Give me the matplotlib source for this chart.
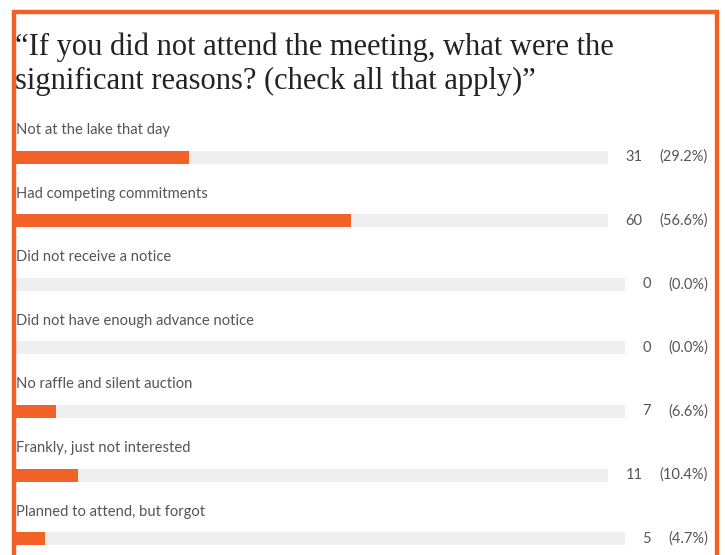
import matplotlib.pyplot as plt
from matplotlib.patches import Rectangle

# survey answers
reasons = ["Not at the lake that day",
           "Had competing commitments",
           "Did not receive a notice",
           "Did not have enough advance notice",
           "No raffle and silent auction",
           "Frankly, just not interested",
           "Planned to attend, but forgot"]
counts = [31, 60, 0, 0, 7, 11, 5]
percents = [29.2, 56.6, 0.0, 0.0, 6.6, 10.4, 4.7]

title = "\u201cIf you did not attend the meeting, what were the\nsignificant reasons? (check all that apply)\u201d"

orange = "#f26125"
track = "#efefef"
gray = "#555555"

W, H = 725, 555
fig = plt.figure(figsize=(W / 100, H / 100), dpi=100)
fig.patch.set_facecolor("white")

def fx(px):
    return px / W

def fy(py):
    return 1 - py / H

# orange frame, open at the bottom
fig.add_artist(Rectangle((fx(14), fy(600)), fx(703), (600 - 12) / H,
                         transform=fig.transFigure, fill=False,
                         edgecolor=orange, linewidth=3.2))

fig.text(fx(15), fy(33), title, family="Liberation Serif", fontsize=22,
         color="#222222", va="top", ha="left", linespacing=1.2)

renderer = fig.canvas.get_renderer()
left = 16
row_gap = 63.6
bar_h = 13

for i, (name, n, p) in enumerate(zip(reasons, counts, percents)):
    yc = 157 + i * row_gap
    fig.text(fx(left), fy(yc - 27), name, family="Lato", fontsize=10.6,
             color=gray, va="center", ha="left")
    t_pct = fig.text(fx(708), fy(yc), "(%.1f%%)" % p, family="Lato",
                     fontsize=10.5, color=gray, va="center", ha="right")
    bb = t_pct.get_window_extent(renderer)
    t_n = fig.text(fx(bb.x0 - 17), fy(yc), str(n), family="Lato",
                   fontsize=10.5, color=gray, va="center", ha="right")
    bb2 = t_n.get_window_extent(renderer)
    right = bb2.x0 - 18

    ax = fig.add_axes([fx(left), fy(yc + bar_h / 2), fx(right - left), bar_h / H])
    ax.barh(0, 100, height=1, color=track)
    ax.barh(0, p, height=1, color=orange)
    ax.set_xlim(0, 100)
    ax.set_ylim(-0.5, 0.5)
    ax.axis("off")

fig.savefig("out.png", dpi=100)
